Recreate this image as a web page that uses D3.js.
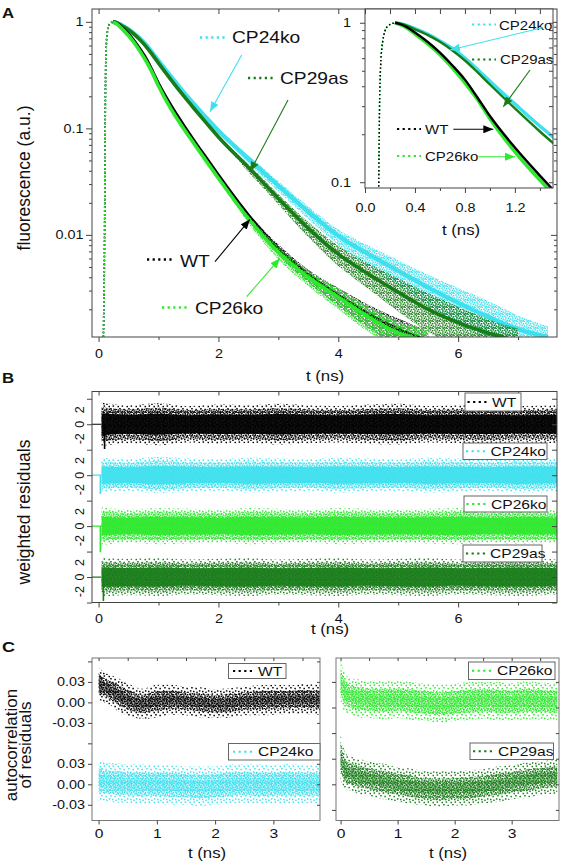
<!DOCTYPE html>
<html><head><meta charset="utf-8">
<script src="https://cdn.jsdelivr.net/npm/d3@7"></script>
<style>
body{margin:0;background:#fff}
svg{display:block}
text{font-family:"Liberation Sans",Arial,Helvetica,sans-serif;fill:#111}
</style>
</head><body>
<svg id="c" width="561" height="864"></svg>
<script>
// ---------------- DATA ----------------
const seriesNames = ["WT", "CP24ko", "CP26ko", "CP29as"];
// Panel A: fluorescence decays
const decayT   = [0.08,0.10,0.11,0.12,0.14,0.18,0.24,0.3,0.4,0.5,0.6,0.7,0.8,0.9,1.0,1.2,1.4,1.6,1.8,2.0,2.5,3.0,3.5,4.0,4.5,5.0,5.5,6.0,6.5,7.0,7.5];
const decayWT     = [0.0011,0.01,0.1,0.42,0.75,0.95,1.0,0.97,0.87,0.76,0.65,0.54,0.44,0.34,0.26,0.165,0.11,0.075,0.052,0.036,0.0152,0.0074,0.0042,0.0027,0.0018,0.0013,0.0010,null,null,null,null];
const decayCP24ko = [0.0011,0.01,0.1,0.42,0.75,0.95,1.0,0.98,0.92,0.85,0.77,0.69,0.60,0.51,0.43,0.31,0.225,0.167,0.125,0.095,0.052,0.029,0.0165,0.0098,0.0066,0.0046,0.0032,0.0023,0.0017,0.0013,0.0011];
const decayCP26ko = [0.0011,0.01,0.1,0.42,0.75,0.95,1.0,0.96,0.85,0.74,0.63,0.52,0.42,0.33,0.25,0.155,0.103,0.071,0.049,0.034,0.0142,0.0069,0.0040,0.0026,0.0017,0.0012,0.0010,null,null,null,null];
const decayCP29as = [0.0011,0.01,0.1,0.42,0.75,0.95,1.0,0.98,0.91,0.84,0.76,0.67,0.58,0.49,0.41,0.29,0.208,0.152,0.112,0.083,0.043,0.022,0.0115,0.0066,0.0043,0.0029,0.0020,0.0015,0.0012,0.0010,null];
// scatter half-width of the decay bands (decades)
const spreadWT     = [0,0,0,0,0,0,0,0,0,0,0,0,0,0,0,0,0,0,0,0,0.02,0.04,0.05,0.07,0.09,0.10,0.10,0,0,0,0];
const spreadCP24ko = [0,0,0,0,0,0,0,0,0,0,0,0,0,0,0,0,0,0,0,0,0.03,0.04,0.05,0.06,0.08,0.10,0.12,0.14,0.15,0.13,0.10];
const spreadCP26ko = [0,0,0,0,0,0,0,0,0,0,0,0,0,0,0,0,0,0,0,0,0.03,0.05,0.06,0.08,0.10,0.11,0.11,0,0,0,0];
const spreadCP29as = [0,0,0,0,0,0,0,0,0,0,0,0,0,0,0,0,0,0,0,0,0.03,0.04,0.06,0.08,0.10,0.13,0.15,0.15,0.13,0.12,0];
const aXTicks = [0,2,4,6], aXMinor = [1,3,5,7];
const aYTicks = [1,0.1,0.01], aYLabels = ["1","0.1","0.01"];
const insetXTicks = [0,0.4,0.8,1.2], insetXLabels = ["0.0","0.4","0.8","1.2"];
const insetYTicks = [1,0.1], insetYLabels = ["1","0.1"];

// Panel B: weighted residuals, envelope half-widths
const residT      = [0.05,0.5,1.0,1.5,2.0,2.5,3.0,3.5,4.0,4.5,5.0,5.5,6.0,6.5,7.0,7.65];
const residWT     = [3.0,2.6,2.9,2.5,2.7,2.6,2.8,2.6,2.5,2.7,2.8,2.5,2.6,2.7,2.5,2.6];
const residCP24ko = [2.4,2.2,2.5,2.3,2.2,2.4,2.3,2.2,2.4,2.3,2.2,2.4,2.3,2.2,2.4,2.3];
const residCP26ko = [2.6,2.3,2.5,2.4,2.3,2.5,2.4,2.3,2.5,2.4,2.3,2.4,2.5,2.3,2.4,2.3];
const residCP29as = [2.7,2.5,2.6,2.4,2.5,2.6,2.4,2.5,2.6,2.4,2.5,2.6,2.4,2.5,2.6,2.4];
const residSpikeT = [0.10,0.03,0.03,0.08];
const residSpikeV = [-3.4,-2.6,-3.6,-3.3];
const bTickLabels = ["2","0","-2"];

// Panel C: autocorrelation of residuals, centre and half-width
const acfT = [0.0,0.1,0.2,0.3,0.5,0.75,1.0,1.25,1.5,1.75,2.0,2.25,2.5,2.75,3.0,3.25,3.5,3.8];
const acfWT      = [0.028,0.022,0.018,0.013,0.004,-0.002,0.002,0.004,0.002,0.0,-0.002,-0.001,0.002,0.003,0.004,0.004,0.005,0.004];
const acfCP24ko  = [0.006,0.004,0.003,0.002,0.001,0.0,0.0,-0.001,-0.002,-0.003,-0.002,0.0,0.001,0.0,0.0,0.001,0.0,0.0];
const acfCP26ko  = [0.030,0.012,0.008,0.006,0.004,0.003,0.004,0.002,0.0,-0.002,0.0,0.002,0.003,0.002,0.001,0.003,0.002,0.001];
const acfCP29as  = [0.040,0.018,0.015,0.012,0.008,0.004,0.0,-0.003,-0.006,-0.007,-0.006,-0.005,-0.003,0.0,0.003,0.006,0.009,0.011];
const acfHwWT     = [0.024,0.022,0.022,0.024,0.024,0.022,0.024,0.022,0.021,0.022,0.021,0.022,0.021,0.022,0.022,0.021,0.022,0.022];
const acfHwCP24ko = [0.030,0.028,0.028,0.029,0.028,0.029,0.028,0.029,0.028,0.029,0.028,0.029,0.028,0.029,0.028,0.029,0.028,0.028];
const acfHwCP26ko = [0.034,0.028,0.027,0.028,0.027,0.028,0.027,0.028,0.027,0.028,0.027,0.028,0.027,0.028,0.027,0.028,0.027,0.027];
const acfHwCP29as = [0.034,0.026,0.025,0.026,0.025,0.026,0.025,0.026,0.025,0.026,0.025,0.026,0.025,0.026,0.025,0.026,0.025,0.025];
const cXTicks = [0,1,2,3];
const cYLabels = ["0.03","0.00","-0.03"];

// ---------------- STYLE ----------------
const COL = {WT:"#000000", CP24ko:"#3ee0ee", CP26ko:"#2ee82e", CP29as:"#187c18"};
const AX = "#444";
const SX = 1.2;

const svg = d3.select("#c");
const defs = svg.append("defs");

const densePts = [[0.2,0.4],[2.6,0.1],[4.8,1.0],[1.2,2.2],[3.6,2.6],[5.6,3.4],[0.4,4.2],[2.4,4.6],[4.4,5.0],[1.4,6.0],[3.2,6.4],[5.4,5.8]];
const sparsePts = [[0.5,0.8],[4.6,0.3],[2.2,3.0],[6.4,3.8],[0.9,6.2],[4.0,6.8],[7.2,7.6]];
function mkPattern(id, color, tile, pts, sz){
  const p = defs.append("pattern").attr("id", id).attr("patternUnits","userSpaceOnUse")
    .attr("width", tile).attr("height", tile);
  pts.forEach(d => p.append("rect").attr("x", d[0]).attr("y", d[1]).attr("width", sz).attr("height", sz).attr("fill", color));
}
seriesNames.forEach(n => {
  mkPattern("dense-"+n, COL[n], 7, densePts, 1.5);
  mkPattern("sparse-"+n, COL[n], 9, sparsePts, 1.5);
});
seriesNames.forEach(n => {
  defs.append("marker").attr("id","arr-"+n).attr("markerUnits","userSpaceOnUse")
    .attr("markerWidth",11).attr("markerHeight",8).attr("refX",10).attr("refY",4).attr("orient","auto")
    .append("path").attr("d","M0,0 L10,4 L0,8 Z").attr("fill", COL[n]);
});

function txt(g, x, y, s, o){
  o = o || {};
  const t = g.append("text")
    .attr("transform", `translate(${x},${y}) rotate(${o.rot||0}) scale(${o.sx===undefined?SX:o.sx},1)`)
    .attr("text-anchor", o.anchor || "start")
    .style("font-size", (o.size||12)+"px")
    .text(s);
  if (o.weight) t.style("font-weight", o.weight);
  return t;
}
function styleAxis(g){
  g.select(".domain").remove();
  g.selectAll(".tick line").attr("stroke", AX);
  g.selectAll(".tick text").style("font-size","12px").attr("fill","#111");
}
function frame(x0,y0,w,h,color){
  svg.append("rect").attr("x",x0).attr("y",y0).attr("width",w).attr("height",h)
    .attr("fill","none").attr("stroke",color||AX).attr("stroke-width",1);
}
function clip(id,x,y,w,h){
  defs.append("clipPath").attr("id",id).append("rect").attr("x",x).attr("y",y).attr("width",w).attr("height",h);
}
function dotSym(g, x1, x2, y, color, w){
  g.append("line").attr("x1",x1).attr("x2",x2).attr("y1",y).attr("y2",y)
    .attr("stroke",color).attr("stroke-width",w||2.2).attr("stroke-dasharray","2.2,3.4");
}
function arrow(g, x1,y1,x2,y2,n){
  g.append("line").attr("x1",x1).attr("y1",y1).attr("x2",x2).attr("y2",y2)
    .attr("stroke",COL[n]).attr("stroke-width",1.1).attr("marker-end",`url(#arr-${n})`);
}

// ---------------- PANEL A ----------------
const A = {l:92, t:9, r:557, b:337};
const xA = d3.scaleLinear().domain([-0.11, 7.65]).range([A.l, A.r]);
const yA = d3.scaleLog().domain([0.0011, 1.32]).range([A.b, A.t]);
clip("clipA", A.l, A.t, A.r-A.l, A.b-A.t);

const decay = {WT:decayWT, CP24ko:decayCP24ko, CP26ko:decayCP26ko, CP29as:decayCP29as};
const spread = {WT:spreadWT, CP24ko:spreadCP24ko, CP26ko:spreadCP26ko, CP29as:spreadCP29as};

const gAdata = svg.append("g").attr("clip-path","url(#clipA)");
["CP24ko","CP29as","WT","CP26ko"].forEach(n => {
  const pts = decayT.map((t,i)=>({t, v:decay[n][i], s:spread[n][i]}));
  const band = pts.filter(d => d.v != null && d.s > 0);
  const bi = pts.findIndex(d => d.s > 0);
  const bandPts = [pts[bi-1]].concat(band).map(d => ({t:d.t, v:d.v, s:d.s||0.005}));
  gAdata.append("path").datum(bandPts)
    .attr("d", d3.area().curve(d3.curveMonotoneX).x(d=>xA(d.t))
      .y0(d=>yA(Math.max(d.v/Math.pow(10,d.s*1.4), 0.0009))).y1(d=>yA(d.v*Math.pow(10,d.s))))
    .attr("fill", `url(#dense-${n})`);
  const line = d3.line().defined(d=>d.v!=null).curve(d3.curveMonotoneX).x(d=>xA(d.t)).y(d=>yA(d.v));
  gAdata.append("path").datum(pts.slice(0,7)).attr("d", line)
    .attr("fill","none").attr("stroke",COL[n]).attr("stroke-width",1.6).attr("stroke-dasharray","1.6,2.2");
  gAdata.append("path").datum(pts.slice(6)).attr("d", line)
    .attr("fill","none").attr("stroke",COL[n]).attr("stroke-width", n==="CP24ko"?4.4:3.6);
});
frame(A.l, A.t, A.r-A.l, A.b-A.t);

const axAb = svg.append("g").attr("transform",`translate(0,${A.b})`)
  .call(d3.axisBottom(xA).tickValues(aXTicks).tickSize(5).tickFormat(d3.format("d")));
styleAxis(axAb); axAb.selectAll(".tick text").attr("y",12.5).attr("transform",`scale(${SX},1)`);
styleAxis(svg.append("g").attr("transform",`translate(0,${A.b})`).call(d3.axisBottom(xA).tickValues(aXMinor).tickSize(3).tickFormat("")));
styleAxis(svg.append("g").attr("transform",`translate(0,${A.t})`).call(d3.axisTop(xA).tickValues(aXTicks).tickSize(-5).tickFormat("")));
styleAxis(svg.append("g").attr("transform",`translate(0,${A.t})`).call(d3.axisTop(xA).tickValues(aXMinor).tickSize(-3).tickFormat("")));
const aMinorY = [];
[0.001,0.01,0.1,1].forEach(d => { for (let k=2;k<=9;k++){ const v=d*k; if (v>0.0011 && v<1.32) aMinorY.push(v);} });
const axAl = svg.append("g").attr("transform",`translate(${A.l},0)`)
  .call(d3.axisLeft(yA).tickValues(aYTicks).tickSize(6).tickFormat((d,i)=>aYLabels[i]));
styleAxis(axAl); axAl.selectAll(".tick text").attr("x",-8.5/SX).attr("transform",`scale(${SX},1)`);
styleAxis(svg.append("g").attr("transform",`translate(${A.l},0)`).call(d3.axisLeft(yA).tickValues(aMinorY).tickSize(3).tickFormat("")));
styleAxis(svg.append("g").attr("transform",`translate(${A.r},0)`).call(d3.axisRight(yA).tickValues(aYTicks).tickSize(-6).tickFormat("")));
styleAxis(svg.append("g").attr("transform",`translate(${A.r},0)`).call(d3.axisRight(yA).tickValues(aMinorY).tickSize(-3).tickFormat("")));

const gAL = svg.append("g");
txt(gAL, 325, 381, "t (ns)", {size:14, anchor:"middle"});
txt(gAL, 30, 178, "fluorescence (a.u.)", {size:17.5, anchor:"middle", rot:-90, sx:1});
txt(gAL, 2, 18, "A", {size:14, weight:"bold"});
dotSym(gAL, 200, 227, 37.5, COL.CP24ko, 2.6); txt(gAL, 232, 43, "CP24ko", {size:16});
arrow(gAL, 241.7, 55, 210, 111.7, "CP24ko");
dotSym(gAL, 248, 274, 78, COL.CP29as, 2.6); txt(gAL, 280, 83.5, "CP29as", {size:16});
arrow(gAL, 288, 100, 250, 171.7, "CP29as");
dotSym(gAL, 147, 174, 259.5, COL.WT, 2.6); txt(gAL, 180, 266.5, "WT", {size:16});
arrow(gAL, 215, 261.7, 250, 219.3, "WT");
dotSym(gAL, 162, 189, 307.5, COL.CP26ko, 2.6); txt(gAL, 195, 314, "CP26ko", {size:16});
arrow(gAL, 246.7, 296.7, 280, 258.3, "CP26ko");

// ---------------- INSET ----------------
const I = {l:365, t:9, r:553, b:188};
const xI = d3.scaleLinear().domain([0, 1.505]).range([I.l, I.r]);
const yI = d3.scaleLog().domain([0.092, 1.22]).range([I.b, I.t]);
svg.append("rect").attr("x",I.l).attr("y",I.t).attr("width",I.r-I.l).attr("height",I.b-I.t).attr("fill","#fff");
clip("clipI", I.l, I.t, I.r-I.l, I.b-I.t);
const gIdata = svg.append("g").attr("clip-path","url(#clipI)");
["CP24ko","CP29as","CP26ko","WT"].forEach(n => {
  const pts = decayT.map((t,i)=>({t, v:decay[n][i]}));
  const line = d3.line().defined(d=>d.v!=null).curve(d3.curveMonotoneX).x(d=>xI(d.t)).y(d=>yI(d.v));
  gIdata.append("path").datum(pts.slice(0,7)).attr("d", line)
    .attr("fill","none").attr("stroke",COL[n]).attr("stroke-width",1.4).attr("stroke-dasharray","1.4,2.4");
  gIdata.append("path").datum(pts.slice(6)).attr("d", line)
    .attr("fill","none").attr("stroke",COL[n]).attr("stroke-width", n==="CP24ko"?3.4:(n==="CP26ko"?3.4:2.4));
});
frame(I.l, I.t, I.r-I.l, I.b-I.t);
const insetMinorX = [0.2,0.6,1.0,1.4];
const axIb = svg.append("g").attr("transform",`translate(0,${I.b})`)
  .call(d3.axisBottom(xI).tickValues(insetXTicks).tickSize(5).tickFormat((d,i)=>insetXLabels[i]));
styleAxis(axIb); axIb.selectAll(".tick text").attr("y",15).attr("transform",`scale(${SX},1)`);
styleAxis(svg.append("g").attr("transform",`translate(0,${I.b})`).call(d3.axisBottom(xI).tickValues(insetMinorX).tickSize(3).tickFormat("")));
styleAxis(svg.append("g").attr("transform",`translate(0,${I.t})`).call(d3.axisTop(xI).tickValues(insetXTicks.concat(insetMinorX)).tickSize(-5).tickFormat("")));
const iMinorY = [0.2,0.3,0.4,0.5,0.6,0.7,0.8,0.9];
const axIl = svg.append("g").attr("transform",`translate(${I.l},0)`)
  .call(d3.axisLeft(yI).tickValues(insetYTicks).tickSize(5).tickFormat((d,i)=>insetYLabels[i]));
styleAxis(axIl); axIl.selectAll(".tick text").attr("x",-14/SX).attr("transform",`scale(${SX},1)`);
styleAxis(svg.append("g").attr("transform",`translate(${I.l},0)`).call(d3.axisLeft(yI).tickValues(iMinorY).tickSize(3).tickFormat("")));
styleAxis(svg.append("g").attr("transform",`translate(${I.r},0)`).call(d3.axisRight(yI).tickValues(insetYTicks.concat(iMinorY)).tickSize(-4).tickFormat("")));
const gIL = svg.append("g");
txt(gIL, 461, 235, "t (ns)", {size:14, anchor:"middle"});
dotSym(gIL, 472, 496, 24.5, COL.CP24ko, 2.2); txt(gIL, 499, 29.5, "CP24ko", {size:12.5});
arrow(gIL, 543, 27.5, 450, 50, "CP24ko");
dotSym(gIL, 472, 496, 59.5, COL.CP29as, 2.2); txt(gIL, 500, 63.5, "CP29as", {size:12.5});
arrow(gIL, 530, 70, 503.3, 106.7, "CP29as");
dotSym(gIL, 397, 421, 129, COL.WT, 2.2); txt(gIL, 425, 133.5, "WT", {size:12.5});
arrow(gIL, 453.3, 129.3, 493.3, 129.3, "WT");
dotSym(gIL, 397, 421, 156, COL.CP26ko, 2.2); txt(gIL, 425, 160.5, "CP26ko", {size:12.5});
arrow(gIL, 478.3, 156.7, 515, 156.7, "CP26ko");

// ---------------- PANEL B ----------------
const B = {l:92, t:391.5, r:557, b:602.5};
const xB = d3.scaleLinear().domain([-0.11, 7.65]).range([B.l, B.r]);
const yB = d3.scaleLinear().domain([-3.5, 25.5]).range([B.b, B.t]);
const bOffset = {WT:21, CP24ko:14, CP26ko:7, CP29as:0};
const resid = {WT:residWT, CP24ko:residCP24ko, CP26ko:residCP26ko, CP29as:residCP29as};
clip("clipB", B.l, B.t, B.r-B.l, B.b-B.t);
const gB = svg.append("g").attr("clip-path","url(#clipB)");
seriesNames.forEach((n, si) => {
  const off = bOffset[n];
  const pts = residT.map((t,i)=>({t, h:resid[n][i]}));
  gB.append("path").datum(pts)
    .attr("d", d3.area().curve(d3.curveMonotoneX).x(d=>xB(d.t)).y0(d=>yB(off-d.h)).y1(d=>yB(off+d.h)))
    .attr("fill", `url(#sparse-${n})`);
  gB.append("path").datum(pts)
    .attr("d", d3.area().curve(d3.curveMonotoneX).x(d=>xB(d.t)).y0(d=>yB(off-d.h*0.5)).y1(d=>yB(off+d.h*0.5)))
    .attr("fill", COL[n]).attr("opacity", 0.92);
  gB.append("path").datum(pts)
    .attr("d", d3.area().curve(d3.curveMonotoneX).x(d=>xB(d.t)).y0(d=>yB(off-d.h*0.78)).y1(d=>yB(off+d.h*0.78)))
    .attr("fill", `url(#dense-${n})`);
  gB.append("line").attr("x1",xB(-0.11)).attr("x2",xB(0.05)).attr("y1",yB(off)).attr("y2",yB(off))
    .attr("stroke",COL[n]).attr("stroke-width",1.2);
  gB.append("line").attr("x1",xB(residSpikeT[si])).attr("x2",xB(residSpikeT[si]))
    .attr("y1",yB(off)).attr("y2",yB(off+residSpikeV[si])).attr("stroke",COL[n]).attr("stroke-width",1.6);
});
frame(B.l, B.t, B.r-B.l, B.b-B.t);
const bTicks = [-3.5,0,3.5,7,10.5,14,17.5,21,24.5];
const axBb = svg.append("g").attr("transform",`translate(0,${B.b})`)
  .call(d3.axisBottom(xB).tickValues(aXTicks).tickSize(5).tickFormat(d3.format("d")));
styleAxis(axBb); axBb.selectAll(".tick text").attr("y",12).attr("transform",`scale(${SX},1)`);
styleAxis(svg.append("g").attr("transform",`translate(0,${B.b})`).call(d3.axisBottom(xB).tickValues(aXMinor).tickSize(3).tickFormat("")));
styleAxis(svg.append("g").attr("transform",`translate(0,${B.t})`).call(d3.axisTop(xB).tickValues(aXTicks.concat(aXMinor)).tickSize(-4).tickFormat("")));
styleAxis(svg.append("g").attr("transform",`translate(${B.l},0)`).call(d3.axisLeft(yB).tickValues(bTicks).tickSize(5).tickFormat("")));
styleAxis(svg.append("g").attr("transform",`translate(${B.r},0)`).call(d3.axisRight(yB).tickValues(bTicks).tickSize(-5).tickFormat("")));
const gBL = svg.append("g");
seriesNames.forEach(n => {
  [2,0,-2].forEach((v,i) => {
    txt(gBL, 83.5, yB(bOffset[n]+v), bTickLabels[i], {size:12.5, anchor:"middle", rot:-90, sx:1});
  });
});
txt(gBL, 330, 634, "t (ns)", {size:14, anchor:"middle"});
txt(gBL, 30, 512, "weighted residuals", {size:17.5, anchor:"middle", rot:-90, sx:1});
txt(gBL, 2, 383, "B", {size:14, weight:"bold"});
function legendBox(g, x0, y0, x1, y1, n, sym0, sym1, tx, size){
  g.append("rect").attr("x",x0).attr("y",y0).attr("width",x1-x0).attr("height",y1-y0)
    .attr("fill","#fff").attr("stroke","#666").attr("stroke-width",1);
  dotSym(g, sym0, sym1, (y0+y1)/2, COL[n], 2);
  txt(g, tx, (y0+y1)/2 + 4.6, n, {size:size||13});
}
legendBox(gBL, 465, 393, 521, 411, "WT", 467.5, 489, 492);
legendBox(gBL, 463, 443, 547, 459.5, "CP24ko", 466, 488, 490.5);
legendBox(gBL, 464, 496, 547, 512, "CP26ko", 466.5, 488.5, 491);
legendBox(gBL, 463, 545, 542, 562, "CP29as", 466, 487, 490);

// ---------------- PANEL C ----------------
const CL = {l:92, t:658, r:320, b:820.5};
const CR = {l:336, t:658, r:559, b:820.5};
const xCL = d3.scaleLinear().domain([-0.113, 3.8]).range([CL.l, CL.r]);
const xCR = d3.scaleLinear().domain([-0.08, 3.83]).range([CR.l, CR.r]);
const yC = d3.scaleLinear().domain([-0.053, 0.185]).range([CL.b, CL.t]);
const acf = {WT:acfWT, CP24ko:acfCP24ko, CP26ko:acfCP26ko, CP29as:acfCP29as};
const acfHw = {WT:acfHwWT, CP24ko:acfHwCP24ko, CP26ko:acfHwCP26ko, CP29as:acfHwCP29as};
const cOffset = {WT:0.12, CP24ko:0, CP26ko:0.12, CP29as:0};
clip("clipCL", CL.l, CL.t, CL.r-CL.l, CL.b-CL.t);
clip("clipCR", CR.l, CR.t, CR.r-CR.l, CR.b-CR.t);
function drawAcf(g, x, n){
  const off = cOffset[n];
  const pts = acfT.map((t,i)=>({t, c:acf[n][i], h:acfHw[n][i]}));
  g.append("path").datum(pts)
    .attr("d", d3.area().curve(d3.curveMonotoneX).x(d=>x(d.t)).y0(d=>yC(off+d.c-d.h)).y1(d=>yC(off+d.c+d.h)))
    .attr("fill", `url(#sparse-${n})`);
  g.append("path").datum(pts)
    .attr("d", d3.area().curve(d3.curveMonotoneX).x(d=>x(d.t)).y0(d=>yC(off+d.c-d.h*0.6)).y1(d=>yC(off+d.c+d.h*0.6)))
    .attr("fill", `url(#dense-${n})`);
  g.append("path").datum(pts)
    .attr("d", d3.area().curve(d3.curveMonotoneX).x(d=>x(d.t)).y0(d=>yC(off+d.c-d.h*0.3)).y1(d=>yC(off+d.c+d.h*0.3)))
    .attr("fill", COL[n]).attr("opacity",0.35);
}
drawAcf(svg.append("g").attr("clip-path","url(#clipCL)"), xCL, "WT");
drawAcf(svg.append("g").attr("clip-path","url(#clipCL)"), xCL, "CP24ko");
drawAcf(svg.append("g").attr("clip-path","url(#clipCR)"), xCR, "CP26ko");
drawAcf(svg.append("g").attr("clip-path","url(#clipCR)"), xCR, "CP29as");
frame(CL.l, CL.t, CL.r-CL.l, CL.b-CL.t, "#777");
frame(CR.l, CR.t, CR.r-CR.l, CR.b-CR.t, "#777");
const cLeftTicks = [-0.03,0,0.03,0.06,0.09,0.12,0.15,0.18];
const cRightTicks = [-0.0375,0,0.0375,0.075,0.1125,0.15];
const cMinorX = [0.5,1.5,2.5,3.5];
[[CL,xCL,cLeftTicks],[CR,xCR,cRightTicks]].forEach(([P,x,yt]) => {
  const ab = svg.append("g").attr("transform",`translate(0,${P.b})`)
    .call(d3.axisBottom(x).tickValues(cXTicks).tickSize(4).tickFormat(d3.format("d")));
  styleAxis(ab); ab.selectAll(".tick text").attr("y",8).attr("transform",`scale(${SX},1)`).style("font-size","13px");
  styleAxis(svg.append("g").attr("transform",`translate(0,${P.t})`).call(d3.axisTop(x).tickValues(cXTicks.concat(cMinorX)).tickSize(-3).tickFormat("")));
  styleAxis(svg.append("g").attr("transform",`translate(${P.l},0)`).call(d3.axisLeft(yC).tickValues(yt).tickSize(4).tickFormat("")));
  styleAxis(svg.append("g").attr("transform",`translate(${P.r},0)`).call(d3.axisRight(yC).tickValues(yt).tickSize(-3).tickFormat("")));
});
const gCL = svg.append("g");
[0.12, 0].forEach(off => {
  [0.03,0,-0.03].forEach((v,i) => {
    txt(gCL, 85, yC(off+v)+4.3, cYLabels[i], {size:12, anchor:"end"});
  });
});
txt(gCL, 207, 858, "t (ns)", {size:14, anchor:"middle"});
txt(gCL, 448, 858, "t (ns)", {size:14, anchor:"middle"});
txt(gCL, 16.5, 745, "autocorrelation", {size:17, anchor:"middle", rot:-90, sx:1});
txt(gCL, 31, 745, "of residuals", {size:17, anchor:"middle", rot:-90, sx:1});
txt(gCL, 2, 652, "C", {size:15, weight:"bold"});
legendBox(gCL, 228.5, 663.5, 286, 678.5, "WT", 233, 255, 258);
legendBox(gCL, 228.5, 743.5, 320, 760, "CP24ko", 233, 255, 258);
legendBox(gCL, 468.5, 662, 555, 679.5, "CP26ko", 472, 494, 497);
legendBox(gCL, 470, 743, 553.5, 759.5, "CP29as", 473, 495, 498);
</script>
</body></html>
